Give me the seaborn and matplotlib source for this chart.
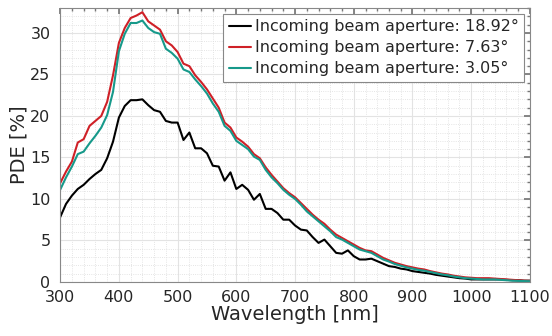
import numpy as np
import pandas as pd
import matplotlib
matplotlib.use("Agg")
import matplotlib.pyplot as plt
from matplotlib.ticker import MultipleLocator
import seaborn as sns

sns.set_theme(style="white")
plt.rcParams["font.family"] = ["DejaVu Sans"]

# wavelength grid, 10 nm steps
wavelength = list(range(300, 1101, 10))

# PDE [%] for each incoming beam aperture
pde_1892 = [7.8, 9.4, 10.4, 11.2, 11.7, 12.4, 13.0, 13.5, 14.9, 16.9,
            19.8, 21.2, 21.9, 21.9, 22.0, 21.3, 20.7, 20.5, 19.4, 19.2,
            19.2, 17.1, 18.0, 16.1, 16.1, 15.5, 14.0, 13.9, 12.2, 13.2,
            11.2, 11.7, 11.1, 9.9, 10.6, 8.8, 8.8, 8.3, 7.5, 7.5,
            6.8, 6.3, 6.2, 5.4, 4.7, 5.1, 4.3, 3.5, 3.4, 3.8,
            3.1, 2.7, 2.7, 2.8, 2.5, 2.2, 1.9, 1.8, 1.6, 1.5,
            1.3, 1.2, 1.1, 1.0, 0.85, 0.75, 0.65, 0.55, 0.45, 0.4,
            0.3, 0.3, 0.3, 0.3, 0.3, 0.3, 0.25, 0.2, 0.2, 0.15, 0.15]
pde_763 = [11.9, 13.3, 14.5, 16.8, 17.2, 18.8, 19.4, 20.0, 21.7, 24.9,
           28.8, 30.6, 31.8, 32.1, 32.5, 31.4, 30.9, 30.4, 29.0, 28.5,
           27.7, 26.3, 26.0, 24.9, 24.1, 23.2, 22.1, 21.0, 19.2, 18.6,
           17.4, 16.9, 16.3, 15.4, 14.9, 13.8, 12.9, 12.1, 11.3, 10.7,
           10.2, 9.5, 8.8, 8.1, 7.5, 7.0, 6.3, 5.7, 5.3, 4.9,
           4.5, 4.1, 3.8, 3.7, 3.3, 2.9, 2.6, 2.3, 2.1, 1.9,
           1.75, 1.6, 1.5, 1.3, 1.15, 1.0, 0.9, 0.75, 0.65, 0.55,
           0.5, 0.45, 0.45, 0.45, 0.4, 0.35, 0.3, 0.25, 0.2, 0.15, 0.12]
pde_305 = [11.1, 12.6, 13.9, 15.4, 15.7, 16.7, 17.6, 18.6, 20.1, 22.9,
           27.8, 29.9, 31.2, 31.2, 31.5, 30.6, 30.1, 29.9, 28.1, 27.6,
           26.9, 25.6, 25.3, 24.4, 23.6, 22.7, 21.5, 20.5, 18.8, 18.2,
           17.0, 16.5, 16.0, 15.1, 14.7, 13.5, 12.6, 11.9, 11.1, 10.5,
           10.0, 9.3, 8.5, 7.9, 7.3, 6.7, 6.1, 5.4, 5.1, 4.7,
           4.3, 3.9, 3.7, 3.5, 3.1, 2.7, 2.45, 2.15, 1.95, 1.75,
           1.6, 1.45, 1.35, 1.2, 1.05, 0.9, 0.8, 0.65, 0.55, 0.45,
           0.4, 0.35, 0.3, 0.3, 0.3, 0.25, 0.2, 0.15, 0.12, 0.1, 0.08]

labels = ["Incoming beam aperture: 18.92°",
          "Incoming beam aperture: 7.63°",
          "Incoming beam aperture: 3.05°"]
colors = ["black", "#cf2027", "#16998a"]

frames = []
for lab, vals in zip(labels, [pde_1892, pde_763, pde_305]):
    frames.append(pd.DataFrame({"wl": wavelength, "pde": vals, "aperture": lab}))
df = pd.concat(frames, ignore_index=True)

fig = plt.figure(figsize=(5.52, 3.36), dpi=100)
ax = fig.add_axes([0.109, 0.161, 0.851, 0.815])

sns.lineplot(data=df, x="wl", y="pde", hue="aperture", hue_order=labels,
             palette=dict(zip(labels, colors)), linewidth=1.5, ax=ax)

ax.set_xlim(300, 1100)
ax.set_ylim(0, 33)
ax.xaxis.set_major_locator(MultipleLocator(100))
ax.xaxis.set_minor_locator(MultipleLocator(20))
ax.yaxis.set_major_locator(MultipleLocator(5))
ax.yaxis.set_minor_locator(MultipleLocator(1))

# matlab-like grid and ticks
ax.grid(True, which="major", color="#e3e3e3", linewidth=0.8, linestyle="-")
ax.grid(True, which="minor", color="#dcdcdc", linewidth=0.6, linestyle=":")
ax.set_axisbelow(True)
ax.tick_params(which="both", direction="in", top=True, right=True,
               color="#777777", labelsize=11.5, labelcolor="#262626")
ax.tick_params(which="major", length=4)
ax.tick_params(which="minor", length=2)
ax.tick_params(axis="x", which="major", pad=6)
ax.tick_params(axis="y", which="major", pad=7)
for s in ax.spines.values():
    s.set_color("#888888")
    s.set_linewidth(0.8)

ax.set_xlabel("Wavelength [nm]", fontsize=14, color="#262626", labelpad=0)
ax.set_ylabel("PDE [%]", fontsize=14, color="#262626", labelpad=1)

leg = ax.legend(loc="upper right", fontsize=11.5, handlelength=1.4,
                handletextpad=0.25, borderpad=0.35, labelspacing=0.38,
                fancybox=False, framealpha=1, edgecolor="#888888",
                borderaxespad=0.35)
leg.get_frame().set_linewidth(0.8)

plt.savefig("out.png", dpi=100)
plt.close()
